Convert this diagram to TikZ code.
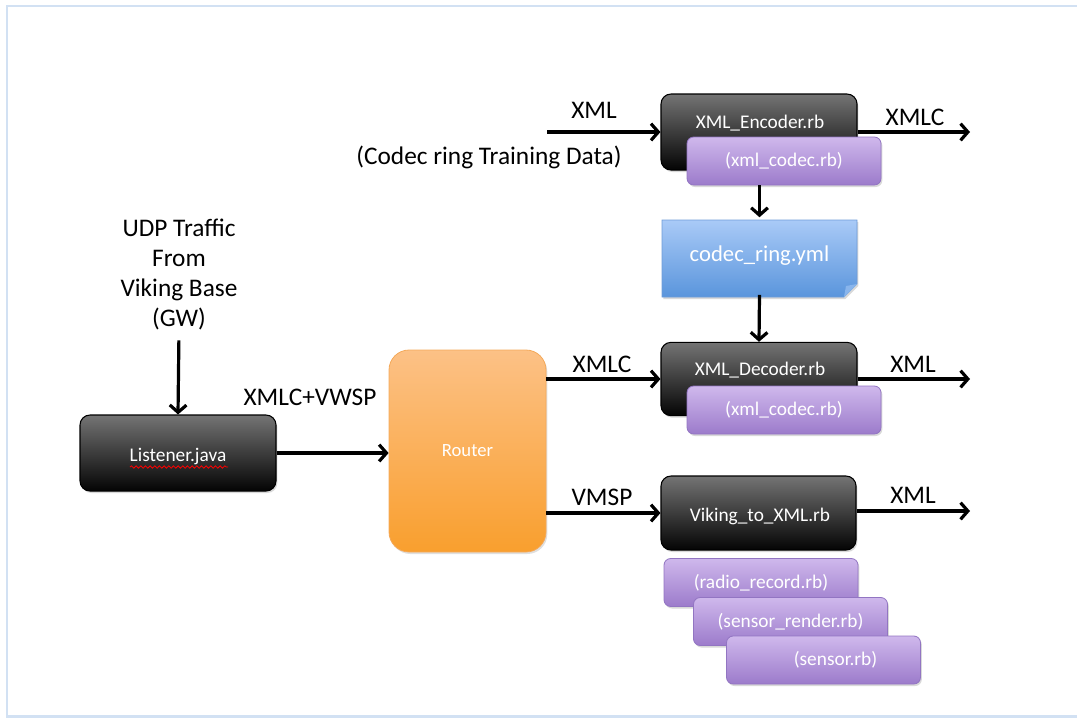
\documentclass[tikz,border=0pt]{standalone}
\usepackage{fontspec}
\setmainfont{Carlito}
\usetikzlibrary{arrows.meta,shadows,decorations.pathmorphing}
\definecolor{frameblue}{HTML}{D2E1F3}
\definecolor{darktop}{HTML}{747474}
\definecolor{darkbot}{HTML}{040404}
\definecolor{purtop}{HTML}{CFB8EC}
\definecolor{purbot}{HTML}{9C7BCB}
\definecolor{purline}{HTML}{9275C2}
\definecolor{bluetop}{HTML}{A9CAF7}
\definecolor{bluebot}{HTML}{5A95DC}
\definecolor{blueline}{HTML}{6E9CD8}
\definecolor{oratop}{HTML}{FCC186}
\definecolor{orabot}{HTML}{F99F2E}
\definecolor{oraline}{HTML}{F4A95A}
\tikzset{
  darkbox/.style={draw=black, line width=0.8pt, rounded corners=7.5pt,
    top color=darktop, bottom color=darkbot,
    drop shadow={shadow xshift=1pt,shadow yshift=-1.5pt,opacity=0.3}},
  purbox/.style={draw=purline, line width=0.6pt, rounded corners=5pt,
    top color=purtop, bottom color=purbot, minimum width=145.5pt, minimum height=36pt,
    text=white, font=\fontsize{14.5}{17}\selectfont,
    drop shadow={shadow xshift=1pt,shadow yshift=-1.5pt,opacity=0.3}},
  boxtext/.style={text=white, font=\fontsize{14.5}{17}\selectfont, inner sep=0pt},
  lbl/.style={font=\fontsize{19}{22.5}\selectfont, inner sep=0pt},
  arr/.style={line width=2.4pt, -{Straight Barb[length=5.5pt,width=12.5pt]}},
}
\begin{document}
\begin{tikzpicture}[x=0.75pt,y=-0.75pt]
\useasboundingbox (0,0) rectangle (1077,719);
\draw[frameblue, line width=2.2pt] (1090,6) -- (7,6) -- (7,716.5) -- (1090,716.5);

% Encoder
\node[darkbox, minimum width=147pt, minimum height=57pt] (enc) at (759,132) {};
\node[boxtext] (enctext) at (760,123) {XML\_Encoder.rb};
\node[purbox] (enccodec) at (784,161) {(xml\_codec.rb)};

% codec ring
\shade[top color=bluetop, bottom color=bluebot, draw=blueline, line width=0.5pt,
  drop shadow={shadow xshift=1pt,shadow yshift=-1.5pt,opacity=0.3}]
  (662,220) -- (857,220) -- (857,284) -- (844,297) -- (662,297) -- cycle;
\fill[bluetop!60!bluebot] (857,284) -- (846,286) -- (844,297) -- cycle;
\node[minimum width=146.25pt, minimum height=57.75pt, text=white,
  font=\fontsize{17}{20}\selectfont] (codec) at (759.5,256) {codec\_ring.yml};

% Decoder
\node[darkbox, minimum width=147pt, minimum height=55pt] (dec) at (759,379) {};
\node[boxtext] (dectext) at (760,370) {XML\_Decoder.rb};
\node[purbox] (deccodec) at (784,410) {(xml\_codec.rb)};

% Viking
\node[darkbox, minimum width=146.25pt, minimum height=55.5pt] (vik) at (758.5,513) {};
\node[boxtext] (viktext) at (760,516) {Viking\_to\_XML.rb};
\node[purbox] (radio) at (761,582.5) {(radio\_record.rb)};
\node[purbox] (srender) at (790.5,621.5) {(sensor\_render.rb)};
\node[purbox] (sensor) at (823.5,660) {\hspace*{18pt}(sensor.rb)};

% Router
\node[draw=oraline, line width=0.6pt, rounded corners=15pt, top color=oratop, bottom color=orabot,
  minimum width=117.75pt, minimum height=151.5pt, text=white,
  font=\fontsize{14}{17}\selectfont,
  drop shadow={shadow xshift=1pt,shadow yshift=-1.5pt,opacity=0.25}] (router) at (467.5,451) {Router};

% Listener
\node[darkbox, minimum width=147pt, minimum height=57pt] (lis) at (178,453) {};
\node[boxtext] (listext) at (178,456) {Listener.java};
\draw[red, line width=0.6pt, decorate, decoration={snake, amplitude=0.9pt, segment length=3.5pt}]
  (130,467) -- (228,467);

% Labels
\node[lbl, align=center] (udp) at (179,274) {UDP Traffic\\From\\Viking Base\\(GW)};
\node[lbl] (xmlcvwsp) at (310,397) {XMLC+VWSP};
\node[lbl] (xmlin) at (594,110) {XML};
\node[lbl] (training) at (489,157) {(Codec ring Training Data)};
\node[lbl] (xmlcout) at (915,117) {XMLC};
\node[lbl] (xmlcmid) at (602,364) {XMLC};
\node[lbl] (xmldec) at (913,364) {XML};
\node[lbl] (vmsp) at (602,497) {VMSP};
\node[lbl] (xmlvik) at (913,495) {XML};

% free ends
\coordinate (encin) at (547,132);
\coordinate (encout) at (970,132);
\coordinate (decout) at (970,379);
\coordinate (vikout) at (970,511);

% connectors
\draw[arr] (encin) -- (enc.west |- encin);
\draw[arr] (enc.east |- encout) -- (encout);
\draw[arr] (enccodec.south -| codec.north) -- (codec.north);
\draw[arr] (codec.south) -- (dec.north);
\draw[arr] (dec.east |- decout) -- (decout);
\draw[arr] (vik.east |- vikout) -- (vikout);
\draw[arr] (router.east |- dec.west) -- (dec.west);
\draw[arr] (router.east |- vik.west) -- (vik.west);
\draw[arr] (lis.east) -- (lis.east -| router.west);
\draw[arr, shorten <=8pt] (udp.south) -- (lis.north);
\end{tikzpicture}
\end{document}
